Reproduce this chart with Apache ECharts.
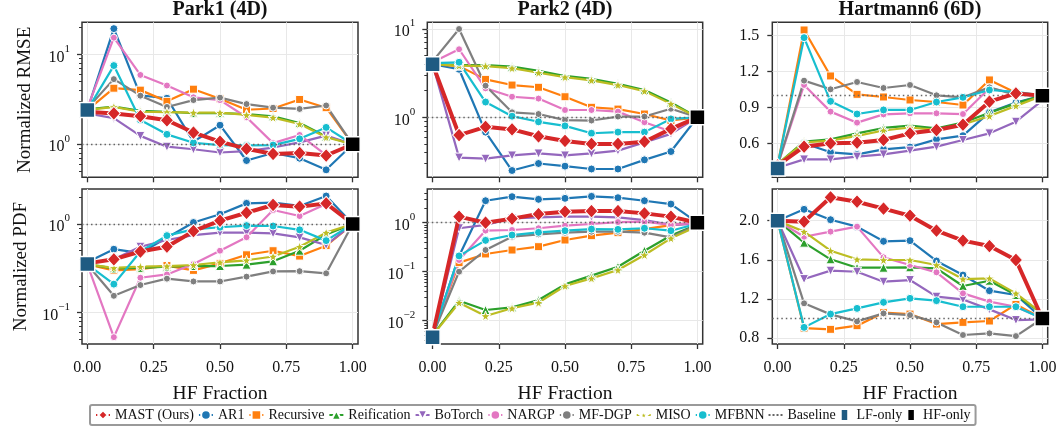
<!DOCTYPE html>
<html><head><meta charset="utf-8">
<script src="https://cdn.jsdelivr.net/npm/echarts@6/dist/echarts.min.js"></script>
<style>html,body{margin:0;padding:0;background:#fff}#c{width:1060px;height:428px}</style>
</head><body><div id="c"></div>
<script>
// ---------------- DATA ----------------
const xFractions = [0, 0.1, 0.2, 0.3, 0.4, 0.5, 0.6, 0.7, 0.8, 0.9, 1.0];
const xTickValues = [0, 0.25, 0.5, 0.75, 1.0];
const methods = ['MAST (Ours)', 'AR1', 'Recursive', 'Reification', 'BoTorch', 'NARGP', 'MF-DGP', 'MISO', 'MFBNN'];
const panelTitles = ['Park1 (4D)', 'Park2 (4D)', 'Hartmann6 (6D)'];
const rowLabels = ['Normalized RMSE', 'Normalized PDF'];
// panel order: top row (RMSE) Park1, Park2, Hartmann6; bottom row (PDF) Park1, Park2, Hartmann6
const yTickValues = [[1, 10], [1, 10], [0.6, 0.9, 1.2, 1.5], [0.1, 1], [0.01, 0.1, 1], [0.8, 1.2, 1.6, 2.0]];
const lfOnlyValues = [2.4, 4.0, 0.394, 0.354, 0.0046, 2.0];
const hfOnlyValues = [1, 1, 1, 1, 1, 1];
const baselineValue = 1;

// Park1 RMSE
const p1r_MAST = [2.30, 2.20, 2.05, 1.85, 1.35, 1.07, 0.89, 0.78, 0.80, 0.75, 1.0];
const p1r_AR1 = [2.40, 19.3, 3.5, 3.25, 1.07, 1.63, 0.66, 0.80, 0.70, 0.52, 1.0];
const p1r_Recursive = [2.4, 4.2, 4.0, 3.0, 4.1, 3.2, 2.42, 2.5, 3.15, 2.55, 1.0];
const p1r_Reification = [2.45, 2.62, 2.35, 2.3, 2.22, 2.22, 2.17, 2.05, 1.72, 1.22, 1.0];
const p1r_BoTorch = [2.2, 1.95, 1.24, 0.94, 0.88, 0.81, 0.84, 0.92, 1.05, 1.25, 1.0];
const p1r_NARGP = [2.5, 15.3, 5.9, 4.5, 3.33, 3.1, 2.0, 1.03, 1.27, 0.76, 1.0];
const p1r_MFDGP = [2.5, 5.3, 3.47, 2.6, 3.1, 3.3, 2.8, 2.55, 2.47, 2.7, 1.0];
const p1r_MISO = [2.4, 2.6, 2.3, 2.28, 2.25, 2.25, 2.12, 1.98, 1.68, 1.2, 1.0];
const p1r_MFBNN = [2.4, 7.5, 1.86, 1.29, 1.04, 0.98, 0.97, 0.98, 1.15, 1.54, 1.0];
// Park2 RMSE
const p2r_MAST = [4.0, 0.63, 0.78, 0.73, 0.61, 0.54, 0.50, 0.50, 0.53, 0.74, 1.0];
const p2r_AR1 = [4.0, 3.5, 0.68, 0.25, 0.30, 0.28, 0.26, 0.26, 0.33, 0.41, 1.0];
const p2r_Recursive = [4.0, 3.8, 2.69, 2.32, 2.19, 1.71, 1.30, 1.24, 1.09, 0.92, 1.0];
const p2r_Reification = [4.0, 3.9, 3.9, 3.75, 3.35, 2.94, 2.72, 2.39, 2.04, 1.47, 1.0];
const p2r_BoTorch = [4.0, 0.35, 0.34, 0.37, 0.39, 0.37, 0.39, 0.42, 0.52, 0.65, 1.0];
const p2r_NARGP = [4.2, 5.9, 2.13, 1.71, 1.63, 1.21, 1.21, 1.16, 0.88, 0.69, 1.0];
const p2r_MFDGP = [4.3, 10.0, 2.28, 1.14, 1.09, 0.93, 0.92, 1.02, 1.02, 1.25, 1.0];
const p2r_MISO = [4.0, 3.85, 3.8, 3.6, 3.2, 2.85, 2.62, 2.32, 1.98, 1.42, 1.0];
const p2r_MFBNN = [4.1, 4.2, 1.49, 1.03, 0.89, 0.80, 0.66, 0.68, 0.68, 0.96, 1.0];
// Hartmann6 RMSE
const h6r_MAST = [0.42, 0.575, 0.603, 0.608, 0.631, 0.686, 0.714, 0.758, 0.95, 1.019, 1.0];
const h6r_AR1 = [0.42, 0.603, 0.528, 0.511, 0.553, 0.572, 0.636, 0.667, 0.861, 0.942, 1.0];
const h6r_Recursive = [0.42, 1.547, 1.164, 1.011, 0.989, 0.964, 0.947, 0.922, 1.131, 1.025, 1.0];
const h6r_Reification = [0.43, 0.617, 0.636, 0.686, 0.731, 0.75, 0.728, 0.775, 0.858, 0.936, 1.0];
const h6r_BoTorch = [0.40, 0.469, 0.469, 0.492, 0.511, 0.542, 0.575, 0.631, 0.686, 0.783, 0.96];
const h6r_NARGP = [0.42, 1.089, 0.867, 0.775, 0.844, 0.853, 0.853, 0.847, 1.061, 1.02, 1.0];
const h6r_MFDGP = [0.42, 1.125, 1.053, 1.114, 1.064, 1.089, 1.003, 0.986, 1.069, 1.006, 1.0];
const h6r_MISO = [0.43, 0.61, 0.625, 0.665, 0.71, 0.735, 0.715, 0.76, 0.83, 0.915, 1.0];
const h6r_MFBNN = [0.42, 1.483, 0.953, 0.847, 0.881, 0.881, 0.947, 0.986, 1.047, 1.031, 1.0];
// Park1 PDF
const p1p_MAST = [0.36, 0.40, 0.49, 0.555, 0.83, 1.09, 1.34, 1.64, 1.57, 1.71, 1.0];
const p1p_AR1 = [0.37, 0.52, 0.47, 0.70, 1.04, 1.29, 1.71, 1.74, 1.6, 2.07, 1.0];
const p1p_Recursive = [0.35, 0.30, 0.31, 0.34, 0.30, 0.36, 0.45, 0.50, 0.435, 0.57, 1.0];
const p1p_Reification = [0.35, 0.316, 0.32, 0.33, 0.336, 0.336, 0.348, 0.38, 0.50, 0.76, 1.0];
const p1p_BoTorch = [0.36, 0.40, 0.555, 0.66, 0.75, 0.80, 0.80, 0.785, 0.707, 0.58, 1.0];
const p1p_NARGP = [0.35, 0.053, 0.248, 0.27, 0.354, 0.50, 0.71, 1.44, 1.23, 1.68, 1.0];
const p1p_MFDGP = [0.35, 0.155, 0.205, 0.242, 0.225, 0.225, 0.255, 0.292, 0.294, 0.278, 1.0];
const p1p_MISO = [0.35, 0.32, 0.33, 0.335, 0.345, 0.37, 0.39, 0.43, 0.555, 0.80, 1.0];
const p1p_MFBNN = [0.35, 0.21, 0.49, 0.74, 0.87, 0.92, 0.96, 0.95, 0.86, 0.65, 1.0];
// Park2 PDF
const p2p_MAST = [0.005, 1.33, 1.0, 1.21, 1.5, 1.68, 1.73, 1.73, 1.55, 1.33, 1.0];
const p2p_AR1 = [0.005, 0.21, 2.81, 3.4, 3.0, 3.14, 3.45, 3.24, 2.81, 2.4, 1.0];
const p2p_Recursive = [0.005, 0.153, 0.23, 0.277, 0.324, 0.443, 0.543, 0.625, 0.74, 0.896, 1.0];
const p2p_Reification = [0.005, 0.0256, 0.0165, 0.0187, 0.0264, 0.055, 0.083, 0.126, 0.268, 0.55, 0.92];
const p2p_BoTorch = [0.005, 0.77, 0.9, 1.22, 1.28, 1.33, 1.33, 1.28, 1.13, 0.9, 0.95];
const p2p_NARGP = [0.005, 0.173, 0.69, 0.71, 0.77, 0.87, 0.94, 1.03, 1.05, 0.9, 1.0];
const p2p_MFDGP = [0.005, 0.1, 0.277, 0.518, 0.578, 0.625, 0.655, 0.655, 0.625, 0.502, 0.9];
const p2p_MISO = [0.005, 0.0233, 0.0125, 0.0179, 0.0233, 0.051, 0.073, 0.108, 0.219, 0.48, 0.85];
const p2p_MFBNN = [0.005, 0.21, 0.436, 0.56, 0.635, 0.687, 0.74, 0.73, 0.77, 0.687, 0.95];
// Hartmann6 PDF
const h6p_MAST = [2.0, 1.99, 2.239, 2.194, 2.123, 2.051, 1.898, 1.796, 1.741, 1.598, 1.0];
const h6p_AR1 = [2.0, 2.116, 2.01, 1.939, 1.789, 1.796, 1.588, 1.444, 1.284, 1.24, 1.0];
const h6p_Recursive = [2.0, 0.902, 0.889, 0.926, 1.059, 1.045, 0.943, 0.96, 0.974, 1.144, 1.0];
const h6p_Reification = [2.0, 1.775, 1.605, 1.519, 1.519, 1.523, 1.513, 1.332, 1.386, 1.24, 1.05];
const h6p_BoTorch = [2.0, 1.403, 1.489, 1.478, 1.376, 1.393, 1.223, 1.195, 1.093, 0.984, 0.99];
const h6p_NARGP = [2.0, 1.836, 1.888, 1.939, 1.625, 1.547, 1.472, 1.257, 1.172, 1.12, 1.0];
const h6p_MFDGP = [2.0, 1.155, 1.042, 0.97, 1.052, 1.035, 0.96, 0.831, 0.848, 0.82, 1.0];
const h6p_MISO = [2.0, 1.888, 1.693, 1.605, 1.598, 1.598, 1.547, 1.403, 1.41, 1.257, 1.05];
const h6p_MFBNN = [2.0, 0.909, 1.045, 1.103, 1.165, 1.206, 1.182, 1.12, 1.12, 1.12, 1.0];

const panelSeries = [
  [p1r_MAST, p1r_AR1, p1r_Recursive, p1r_Reification, p1r_BoTorch, p1r_NARGP, p1r_MFDGP, p1r_MISO, p1r_MFBNN],
  [p2r_MAST, p2r_AR1, p2r_Recursive, p2r_Reification, p2r_BoTorch, p2r_NARGP, p2r_MFDGP, p2r_MISO, p2r_MFBNN],
  [h6r_MAST, h6r_AR1, h6r_Recursive, h6r_Reification, h6r_BoTorch, h6r_NARGP, h6r_MFDGP, h6r_MISO, h6r_MFBNN],
  [p1p_MAST, p1p_AR1, p1p_Recursive, p1p_Reification, p1p_BoTorch, p1p_NARGP, p1p_MFDGP, p1p_MISO, p1p_MFBNN],
  [p2p_MAST, p2p_AR1, p2p_Recursive, p2p_Reification, p2p_BoTorch, p2p_NARGP, p2p_MFDGP, p2p_MISO, p2p_MFBNN],
  [h6p_MAST, h6p_AR1, h6p_Recursive, h6p_Reification, h6p_BoTorch, h6p_NARGP, h6p_MFDGP, h6p_MISO, h6p_MFBNN]
];

// ---------------- LAYOUT / STYLE ----------------
const FONT = '"Liberation Serif", "Times New Roman", serif';
const STAR = 'path://M0,-10L2.35,-3.24L9.51,-3.09L3.8,1.24L5.88,8.09L0,4L-5.88,8.09L-3.8,1.24L-9.51,-3.09L-2.35,-3.24Z';
const methodStyles = [
  {color: '#d62728', symbol: 'diamond', size: [13, 14], width: 4, z: 8},
  {color: '#1f77b4', symbol: 'circle', size: 8, width: 2.2, z: 4},
  {color: '#ff7f0e', symbol: 'rect', size: 8, width: 2.2, z: 4},
  {color: '#2ca02c', symbol: 'triangle', size: 9, width: 2.2, z: 4},
  {color: '#9467bd', symbol: 'triangle', rotate: 180, size: 9, width: 2.2, z: 4},
  {color: '#e377c2', symbol: 'circle', size: 7, width: 2.2, z: 4},
  {color: '#7f7f7f', symbol: 'circle', size: 7, width: 2.2, z: 4},
  {color: '#bcbd22', symbol: STAR, size: 10, width: 2.2, z: 4},
  {color: '#17becf', symbol: 'circle', size: 8, width: 2.2, z: 4}
];
const colLeft = [82, 427.3, 772.3];
const colWidth = [276, 275.4, 275.4];
const rowTop = [22.3, 189];
const rowHeight = 155;
const rowNameGap = [47, 51];
const yType = ['log', 'log', 'value', 'log', 'log', 'value'];
const yRange = [[0.4295, 22.70], [0.2094, 11.91], [0.320, 1.611], [0.04436, 2.483], [0.003342, 4.875], [0.739, 2.324]];
const xRange = [-0.02, 1.02];

function logLabel(v) {
  const e = Math.round(Math.log10(v));
  return '{b|10}{s|' + (e < 0 ? '\u2212' + (-e) : e) + '}';
}
function minorTicks(lo, hi) {
  const out = [];
  for (let e = Math.floor(Math.log10(lo)); e <= Math.ceil(Math.log10(hi)); e++) {
    for (let m = 2; m <= 9; m++) {
      const v = m * Math.pow(10, e);
      if (v >= lo && v <= hi) out.push(v);
    }
  }
  return out;
}

const grids = [], xAxes = [], yAxes = [], series = [], titles = [];
const tickColor = '#333';
for (let p = 0; p < 6; p++) {
  const row = Math.floor(p / 3), col = p % 3;
  grids.push({left: colLeft[col], top: rowTop[row], width: colWidth[col], height: rowHeight,
    show: true, borderColor: '#333', borderWidth: 1.5, backgroundColor: 'transparent', containLabel: false});
  xAxes.push({
    type: 'value', gridIndex: p, min: xRange[0], max: xRange[1],
    axisLine: {show: false, onZero: false},
    axisTick: {show: true, length: 5, customValues: xTickValues, lineStyle: {color: tickColor, width: 1.3}},
    axisLabel: {show: row === 1, customValues: xTickValues, formatter: v => v.toFixed(2),
      fontFamily: FONT, fontSize: 16, color: '#111', margin: 16},
    splitLine: {show: true, lineStyle: {color: '#e8e8e8', width: 1}},
    name: row === 1 ? 'HF Fraction' : '', nameLocation: 'middle', nameGap: 40,
    nameTextStyle: {fontFamily: FONT, fontSize: 19.5, color: '#111'}
  });
  const isLog = yType[p] === 'log';
  yAxes.push({
    type: yType[p], logBase: 10, gridIndex: p, min: yRange[p][0], max: yRange[p][1],
    axisLine: {show: false, onZero: false},
    axisTick: {show: true, length: 5, customValues: yTickValues[p], lineStyle: {color: tickColor, width: 1.3}},
    axisLabel: {customValues: yTickValues[p], formatter: isLog ? logLabel : (v => v.toFixed(1)),
      fontFamily: FONT, fontSize: 16, color: '#111', margin: isLog ? 12 : 13,
      rich: {b: {fontFamily: FONT, fontSize: 16, color: '#111', verticalAlign: 'bottom', lineHeight: 22},
             s: {fontFamily: FONT, fontSize: 11, color: '#111', verticalAlign: 'top', lineHeight: 22}}},
    splitLine: {show: true, lineStyle: {color: '#e8e8e8', width: 1}},
    name: col === 0 ? rowLabels[row] : '', nameLocation: 'middle', nameGap: rowNameGap[row], nameRotate: 90,
    nameTextStyle: {fontFamily: FONT, fontSize: 19, color: '#111'}
  });
  if (row === 0) {
    titles.push({text: panelTitles[col], left: colLeft[col] + colWidth[col] / 2, top: 0, padding: 0, textAlign: 'center',
      textStyle: {fontFamily: FONT, fontSize: 20, fontWeight: 'bold', color: '#111'}});
  }
}
// minor tick axes for log panels
for (let p = 0; p < 6; p++) {
  if (yType[p] !== 'log') continue;
  yAxes.push({
    type: 'log', logBase: 10, gridIndex: p, position: 'left', min: yRange[p][0], max: yRange[p][1],
    axisLine: {show: false, onZero: false},
    axisTick: {show: true, length: 3, customValues: minorTicks(yRange[p][0], yRange[p][1]), lineStyle: {color: tickColor, width: 1}},
    axisLabel: {show: false}, splitLine: {show: false}
  });
}

for (let p = 0; p < 6; p++) {
  // baseline
  series.push({
    type: 'line', name: 'Baseline', xAxisIndex: p, yAxisIndex: p, data: [], symbol: 'none', z: 1,
    lineStyle: {color: '#666', width: 1.3, type: [1.5, 3]}, itemStyle: {color: '#666'},
    markLine: {silent: true, symbol: 'none', label: {show: false}, animation: false,
      lineStyle: {color: '#666', width: 1.3, type: [1.5, 3]}, data: [{yAxis: baselineValue}]}
  });
  for (let m = 0; m < methods.length; m++) {
    const st = methodStyles[m];
    const vals = panelSeries[p][m];
    series.push({
      type: 'line', name: methods[m], xAxisIndex: p, yAxisIndex: p, z: st.z,
      data: xFractions.map((x, i) => [x, vals[i]]),
      symbol: st.symbol, symbolSize: st.size, symbolRotate: st.rotate || 0, showAllSymbol: true,
      lineStyle: {color: st.color, width: st.width},
      itemStyle: {color: st.color, borderColor: '#fff', borderWidth: 1, opacity: 1},
      emphasis: {disabled: true}, clip: false
    });
  }
  series.push({
    type: 'scatter', name: 'LF-only', xAxisIndex: p, yAxisIndex: p, z: 10,
    data: [[0, lfOnlyValues[p]]], symbol: 'rect', symbolSize: 15,
    itemStyle: {color: '#1f5b82', borderColor: '#fff', borderWidth: 1.5, opacity: 1}, emphasis: {disabled: true}
  });
  series.push({
    type: 'scatter', name: 'HF-only', xAxisIndex: p, yAxisIndex: p, z: 10,
    data: [[1, hfOnlyValues[p]]], symbol: 'rect', symbolSize: 15,
    itemStyle: {color: '#000', borderColor: '#fff', borderWidth: 1.5, opacity: 1}, emphasis: {disabled: true}
  });
}

const chart = echarts.init(document.getElementById('c'), null, {renderer: 'canvas'});
chart.setOption({
  animation: false,
  backgroundColor: '#fff',
  title: titles,
  grid: grids,
  xAxis: xAxes,
  yAxis: yAxes,
  legend: {
    data: methods.concat([
      {name: 'Baseline', icon: 'path://M0,0h2v2h-2zM4,0h2v2h-2zM8,0h2v2h-2zM12,0h2v2h-2z'},
      {name: 'LF-only', icon: 'path://M0,0h10v16h-10z'},
      {name: 'HF-only', icon: 'path://M0,0h10v16h-10z'}]),
    left: 90, top: 405, itemWidth: 14, itemHeight: 12, itemGap: 4,
    padding: [3, 5], borderColor: '#9a9a9a', borderWidth: 2, borderRadius: 2,
    selectedMode: false,
    textStyle: {fontFamily: FONT, fontSize: 14, color: '#111'}
  },
  series: series
});
</script></body></html>
